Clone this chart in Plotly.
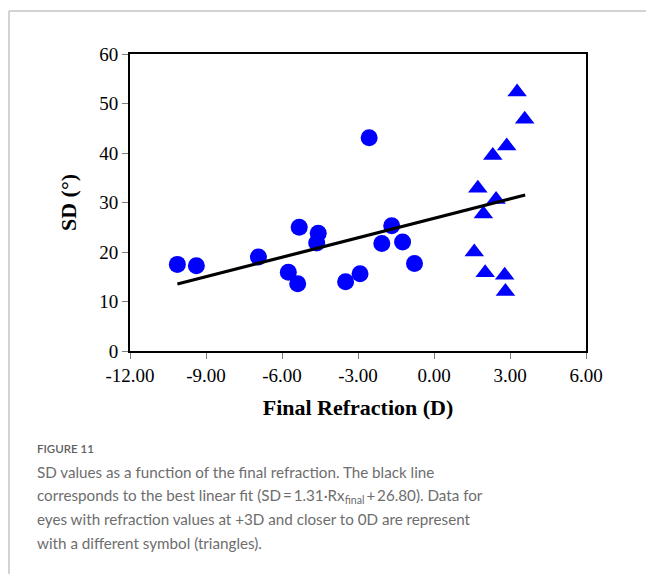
import plotly.graph_objects as go

W, H = 646, 574

# Eyes with larger (mostly myopic) final refraction: circles
circle_rx = [-10.13, -9.38, -6.93, -5.75, -5.38, -5.32, -4.57, -4.63,
             -3.49, -2.92, -2.56, -2.06, -1.67, -1.24, -0.77]
circle_sd = [17.5, 17.2, 19.0, 15.9, 13.6, 25.0, 23.8, 21.8,
             14.0, 15.6, 43.1, 21.7, 25.3, 22.0, 17.7]

# Eyes at +3D and closer to 0D: triangles
tri_rx = [3.28, 3.58, 2.87, 2.32, 1.73, 2.45, 1.95, 1.59, 2.02, 2.79, 2.82]
tri_sd = [52.3, 46.8, 41.4, 39.5, 32.9, 30.6, 27.7, 20.0, 15.8, 15.3, 12.0]

# Best linear fit: SD = slope * Rx_final + intercept
fit_slope = 1.31
fit_intercept = 26.80
fit_rx = [-10.13, 3.60]
fit_sd = [fit_slope * x + fit_intercept for x in fit_rx]

x_tickvals = [-12, -9, -6, -3, 0, 3, 6]
x_ticktext = ["-12.00", "-9.00", "-6.00", "-3.00", "0.00", "3.00", "6.00"]
y_tickvals = [0, 10, 20, 30, 40, 50, 60]

caption_head = "FIGURE 11"
caption_lines = [
    "SD values as a function of the final refraction. The black line",
    "corresponds to the best linear fit (SD\u2009=\u20091.31\u00b7Rx<sub>final</sub>\u2009+\u200926.80). Data for",
    "eyes with refraction values at +3D and closer to 0D are represent",
    "with a different symbol (triangles).",
]

BLUE = "#0000ff"
SERIF = "Liberation Serif"


def px_x(p):
    return p / W


def px_y(p):
    return 1 - p / H


fig = go.Figure()
fig.add_trace(go.Scatter(
    x=circle_rx, y=circle_sd, mode="markers",
    marker=dict(symbol="circle", size=17, color=BLUE, line=dict(width=0)),
    showlegend=False, cliponaxis=False))
fig.add_trace(go.Scatter(
    x=tri_rx, y=tri_sd, mode="markers",
    marker=dict(symbol="triangle-up", size=17, color=BLUE, line=dict(width=0)),
    showlegend=False, cliponaxis=False))
fig.add_trace(go.Scatter(
    x=fit_rx, y=fit_sd, mode="lines",
    line=dict(color="black", width=3.2),
    showlegend=False))

axis_common = dict(
    showgrid=False, zeroline=False,
    showline=True, linecolor="black", linewidth=2, mirror=True,
    ticks="outside", ticklen=6, tickwidth=1, tickcolor="#7f7f7f",
    tickfont=dict(family=SERIF, size=19, color="black"),
    automargin=False,
)

fig.update_layout(
    width=W, height=H,
    margin=dict(l=0, r=0, t=0, b=0),
    paper_bgcolor="white", plot_bgcolor="white",
    xaxis=dict(
        axis_common,
        domain=[px_x(130), px_x(586)],
        range=[-12, 6],
        tickvals=x_tickvals, ticktext=x_ticktext,
        title=dict(text="<b>Final Refraction (D)</b>",
                   font=dict(family=SERIF, size=22, color="black"),
                   standoff=15),
    ),
    yaxis=dict(
        axis_common,
        domain=[px_y(351), px_y(54)],
        range=[0, 60],
        tickvals=y_tickvals,
        title=dict(text="<b>SD (\u00b0)</b>",
                   font=dict(family=SERIF, size=22, color="black"),
                   standoff=17),
    ),
    shapes=[
        dict(type="line", xref="paper", yref="paper",
             x0=px_x(9), y0=px_y(11), x1=1.0, y1=px_y(11),
             line=dict(color="#c4c4c4", width=1.5)),
        dict(type="line", xref="paper", yref="paper",
             x0=px_x(9), y0=px_y(11), x1=px_x(9), y1=0.0,
             line=dict(color="#c4c4c4", width=1.5)),
    ],
)

annotations = [dict(
    text=caption_head, xref="paper", yref="paper",
    x=px_x(35), y=px_y(448), xanchor="left", yanchor="middle",
    showarrow=False,
    font=dict(family="Lato", size=11.5, color="#5f5f5f", weight=600),
)]
for i, line in enumerate(caption_lines):
    annotations.append(dict(
        text=line, xref="paper", yref="paper",
        x=px_x(35), y=px_y(472 + 23.7 * i), xanchor="left", yanchor="middle",
        showarrow=False,
        font=dict(family="Lato", size=15.2, color="#6d6d6d"),
    ))
fig.update_layout(annotations=annotations)

fig.write_html("out.html")
